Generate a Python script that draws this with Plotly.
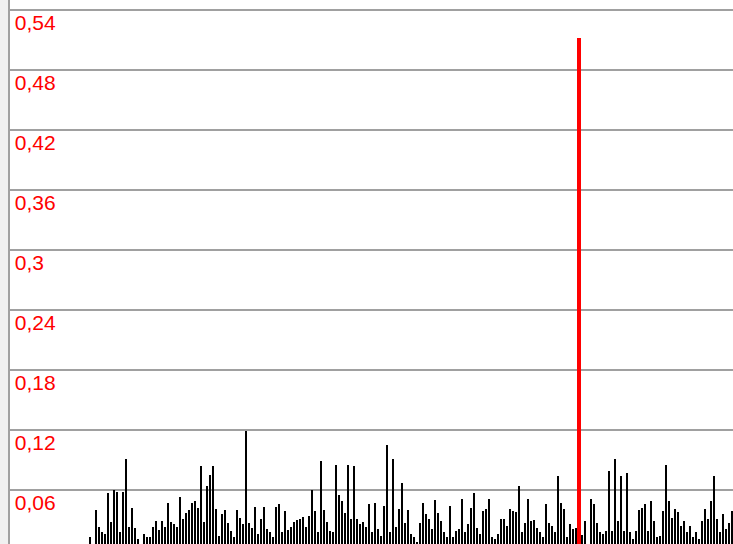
import plotly.graph_objects as go

# bar heights (black spectrum), one value per bar, left to right
heights = [
    0.0122, 0.0, 0.0392, 0.023, 0.0171, 0.0155, 0.0567, 0.0277, 0.0593, 0.0574,
    0.0171, 0.0574, 0.0907, 0.023, 0.0412, 0.0211, 0.0105, 0.005, 0.0155, 0.0122,
    0.0122, 0.023, 0.029, 0.0197, 0.029, 0.023, 0.0468, 0.0277, 0.0254, 0.023,
    0.0527, 0.0303, 0.0369, 0.0395, 0.0468, 0.0484, 0.0418, 0.0831, 0.0277, 0.0633,
    0.0749, 0.0831, 0.0409, 0.0138, 0.0353, 0.0392, 0.027, 0.0188, 0.0122, 0.0392,
    0.032, 0.0254, 0.1187, 0.027, 0.0211, 0.0428, 0.0155, 0.031, 0.0428, 0.0204,
    0.0171, 0.0122, 0.0428, 0.0451, 0.0171, 0.0385, 0.0197, 0.023, 0.0277, 0.0296,
    0.0303, 0.0326, 0.023, 0.0336, 0.0593, 0.0385, 0.0171, 0.0887, 0.0395, 0.0277,
    0.0188, 0.0171, 0.0848, 0.055, 0.0484, 0.0369, 0.0848, 0.0303, 0.0831, 0.0303,
    0.0254, 0.0277, 0.023, 0.0451, 0.0171, 0.0468, 0.0204, 0.0138, 0.0435, 0.1045,
    0.0178, 0.0904, 0.023, 0.0409, 0.0666, 0.027, 0.0392, 0.0155, 0.0122, 0.0072,
    0.027, 0.0468, 0.0353, 0.0303, 0.0204, 0.0491, 0.0369, 0.0287, 0.0171, 0.0122,
    0.0435, 0.0122, 0.0188, 0.0204, 0.0508, 0.0171, 0.0254, 0.0418, 0.0567, 0.0211,
    0.0155, 0.0385, 0.0409, 0.0508, 0.0122, 0.0105, 0.0155, 0.0303, 0.0303, 0.0237,
    0.0409, 0.0385, 0.0376, 0.0633, 0.0171, 0.027, 0.0508, 0.0287, 0.0296, 0.0211,
    0.0171, 0.0122, 0.0451, 0.027, 0.0237, 0.0171, 0.0732, 0.0468, 0.0409, 0.0122,
    0.0254, 0.0204, 0.0211, 0.02, 0.015, 0.0287, 0.006, 0.0508, 0.0451, 0.027,
    0.0171, 0.0155, 0.0188, 0.0788, 0.0188, 0.0907, 0.0287, 0.0732, 0.0188, 0.0765,
    0.0171, 0.0105, 0.0188, 0.0395, 0.0418, 0.0451, 0.0188, 0.0484, 0.0287, 0.0122,
    0.0138, 0.0385, 0.0848, 0.0484, 0.032, 0.0409, 0.0376, 0.0237, 0.0287, 0.0171,
    0.0237, 0.0122, 0.0171, 0.0105, 0.0287, 0.0409, 0.0303, 0.0484, 0.0732, 0.0303,
    0.0171, 0.0353, 0.0204, 0.027, 0.0385,
]
bins = list(range(len(heights)))

# highlighted peak (red)
peak_bin = [163]
peak_value = [0.512]

# y-axis ticks
tick_values = [0.06, 0.12, 0.18, 0.24, 0.3, 0.36, 0.42, 0.48, 0.54]

fig = go.Figure()
fig.add_trace(go.Bar(x=bins, y=heights, width=0.8,
                     marker=dict(color="#000000", line=dict(width=0)),
                     showlegend=False, hoverinfo="skip"))
fig.add_trace(go.Bar(x=peak_bin, y=peak_value, width=1.3,
                     marker=dict(color="#ff0000", line=dict(width=0)),
                     showlegend=False, hoverinfo="skip"))

fig.update_layout(
    width=733, height=544,
    margin=dict(l=10, r=0, t=0, b=0, autoexpand=False),
    paper_bgcolor="#f0f0f0",
    plot_bgcolor="#ffffff",
    separators=",.",
    barmode="overlay",
    bargap=0,
    font=dict(family="Liberation Sans, Arial, sans-serif"),
    xaxis=dict(range=[-26.667, 214.333], showgrid=False, zeroline=False,
               showticklabels=False, ticks="", showline=False, fixedrange=True,
               automargin=False),
    yaxis=dict(range=[0.0055, 0.5495], tickvals=tick_values,
               showgrid=True, gridcolor="#a0a0a0", gridwidth=2,
               zeroline=False, showline=True, linecolor="#a0a0a0", linewidth=2,
               ticks="", ticklabelposition="inside", automargin=False,
               ticklabelstandoff=6, ticklabelshift=13,
               tickfont=dict(color="#ff0000", size=21,
                             family="Liberation Sans, Arial, sans-serif")),
)

fig.write_html("out.html", config={"displayModeBar": False},
               post_script="document.body.style.margin='0';document.body.style.overflow='hidden';")
